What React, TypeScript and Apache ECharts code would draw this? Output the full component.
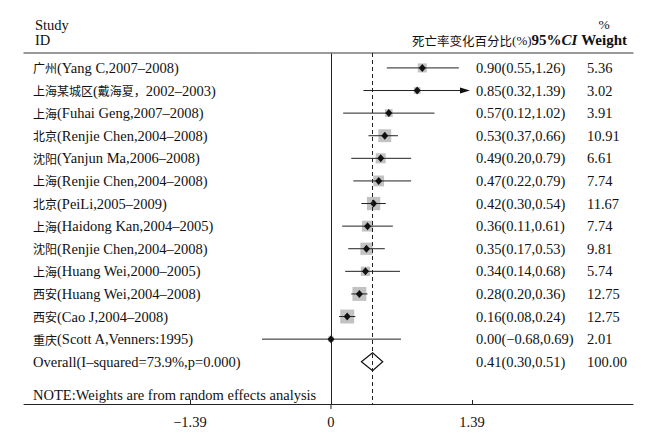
import React, { useEffect, useRef } from "react";
import * as echarts from "echarts";

const studies = [
  "广州(Yang C,2007–2008)",
  "上海某城区(戴海夏，2002–2003)",
  "上海(Fuhai Geng,2007–2008)",
  "北京(Renjie Chen,2004–2008)",
  "沈阳(Yanjun Ma,2006–2008)",
  "上海(Renjie Chen,2004–2008)",
  "北京(PeiLi,2005–2009)",
  "上海(Haidong Kan,2004–2005)",
  "沈阳(Renjie Chen,2004–2008)",
  "上海(Huang Wei,2000–2005)",
  "西安(Huang Wei,2004–2008)",
  "西安(Cao J,2004–2008)",
  "重庆(Scott A,Venners:1995)",
];
const estimates = [0.9, 0.85, 0.57, 0.53, 0.49, 0.47, 0.42, 0.36, 0.35, 0.34, 0.28, 0.16, 0.0];
const lowers = [0.55, 0.32, 0.12, 0.37, 0.2, 0.22, 0.3, 0.11, 0.17, 0.14, 0.2, 0.08, -0.68];
const uppers = [1.26, 1.39, 1.02, 0.66, 0.79, 0.79, 0.54, 0.61, 0.53, 0.68, 0.36, 0.24, 0.69];
const weights = [5.36, 3.02, 3.91, 10.91, 6.61, 7.74, 11.67, 7.74, 9.81, 5.74, 12.75, 12.75, 2.01];

const overallLabel = "Overall(I–squared=73.9%,p=0.000)";
const overallEstimate = [0.41, 0.3, 0.51, 100.0];
const noteText = "NOTE:Weights are from random effects analysis";
const xTickValues = [-1.39, 0, 1.39];
const arrowLimit = 1.39;

const X_MIN = -3.026;
const X_MAX = 2.977;
const Y_MIN = -0.66;
const Y_MAX = 14.87;

const SERIF = "'Liberation Serif', 'Times New Roman', 'Noto Sans CJK SC', serif";
const CJK = "'Noto Sans CJK SC', sans-serif";
const TEXT_COLOR = "#111111";
const FS = 14.5;

const fmt = (v: number) => (v < 0 ? "−" + Math.abs(v).toFixed(2) : v.toFixed(2));
const richify = (s: string) => s.replace(/([\u3000-\u9fff\uff00-\uffef]+)/g, "{c|$1}");
const rich = {
  c: { fontFamily: CJK, fontSize: 12, fill: TEXT_COLOR, color: TEXT_COLOR },
};

function rowTexts(cy: number, label: string, est: string, wt: string) {
  const base = { fill: TEXT_COLOR, fontFamily: SERIF, fontSize: FS, verticalAlign: "middle", align: "left", rich };
  return [
    { type: "text", style: { ...base, x: 33, y: cy, text: richify(label) } },
    { type: "text", style: { ...base, x: 476, y: cy, text: est } },
    { type: "text", style: { ...base, x: 587, y: cy, text: wt } },
  ];
}

export default function App() {
  const ref = useRef<HTMLDivElement>(null);
  useEffect(() => {
    if (!ref.current) return;
    const chart = echarts.init(ref.current, undefined, { renderer: "svg" });
    const rowData = studies.map((_, i) => [i, estimates[i], lowers[i], uppers[i], weights[i]]);
    const overallIndex = studies.length;

    const headerRich = {
      c: { fontFamily: CJK, fontSize: 12.5, fill: TEXT_COLOR, color: TEXT_COLOR },
      p: { fontFamily: SERIF, fontSize: 13, fill: TEXT_COLOR, color: TEXT_COLOR },
      b: { fontFamily: SERIF, fontSize: 15, fontWeight: "bold", fill: TEXT_COLOR, color: TEXT_COLOR },
      i: { fontFamily: SERIF, fontSize: 15, fontWeight: "bold", fontStyle: "italic", fill: TEXT_COLOR, color: TEXT_COLOR },
    };

    const option: any = {
      animation: false,
      backgroundColor: "#ffffff",
      grid: { left: 24, right: 25, top: 53, bottom: 30, containLabel: false },
      xAxis: [
        {
          type: "value",
          min: X_MIN,
          max: X_MAX,
          position: "bottom",
          axisLine: { onZero: false, lineStyle: { color: "#222", width: 1 } },
          axisTick: { show: true, inside: true, length: 4, customValues: xTickValues, lineStyle: { color: "#222" } },
          axisLabel: {
            show: true,
            customValues: xTickValues,
            margin: 11,
            color: TEXT_COLOR,
            fontFamily: SERIF,
            fontSize: FS,
            formatter: (v: number) => (v === 0 ? "0" : fmt(v)),
          },
          splitLine: { show: false },
        },
        {
          type: "value",
          min: X_MIN,
          max: X_MAX,
          position: "top",
          axisLine: { onZero: false, lineStyle: { color: "#7a7a7a", width: 1.5 } },
          axisTick: { show: false },
          axisLabel: { show: false },
          splitLine: { show: false },
        },
      ],
      yAxis: {
        type: "value",
        inverse: true,
        min: Y_MIN,
        max: Y_MAX,
        axisLine: { show: true, onZero: true, lineStyle: { color: "#222", width: 1 } },
        axisTick: { show: false },
        axisLabel: { show: false },
        splitLine: { show: false },
      },
      graphic: [
        { type: "text", style: { x: 35, y: 25, text: "Study", fill: TEXT_COLOR, fontFamily: SERIF, fontSize: FS, verticalAlign: "middle" } },
        { type: "text", style: { x: 35, y: 40, text: "ID", fill: TEXT_COLOR, fontFamily: SERIF, fontSize: FS, verticalAlign: "middle" } },
        { type: "text", style: { x: 604, y: 24, text: "%", fill: TEXT_COLOR, fontFamily: SERIF, fontSize: FS - 1, align: "center", verticalAlign: "middle" } },
        {
          type: "text",
          style: {
            x: 627,
            y: 40,
            text: "{c|死亡率变化百分比}{p|(%)}{b|95%}{i|CI}{b| Weight}",
            fill: TEXT_COLOR,
            fontFamily: SERIF,
            fontSize: 15,
            align: "right",
            verticalAlign: "middle",
            rich: headerRich,
          },
        },
        { type: "text", style: { x: 33, y: 395, text: noteText, fill: TEXT_COLOR, fontFamily: SERIF, fontSize: FS, verticalAlign: "middle" } },
      ],
      series: [
        {
          type: "custom",
          clip: false,
          data: rowData,
          renderItem: (params: any, api: any) => {
            const i = api.value(0);
            const est = api.value(1);
            const lo = api.value(2);
            const hi = api.value(3);
            const w = api.value(4);
            const [cx, cy] = api.coord([est, i]);
            const x1 = api.coord([lo, i])[0];
            const clipped = hi >= arrowLimit;
            const x2 = api.coord([Math.min(hi, arrowLimit), i])[0];
            const side = 3.9 * Math.sqrt(w);
            const children: any[] = [
              { type: "rect", shape: { x: cx - side / 2, y: cy - side / 2, width: side, height: side }, style: { fill: "#c2c2c2" } },
              { type: "line", shape: { x1, y1: cy, x2: clipped ? x2 - 8 : x2, y2: cy }, style: { stroke: "#222", lineWidth: 1 } },
              {
                type: "polygon",
                shape: { points: [[cx - 3.5, cy], [cx, cy - 4], [cx + 3.5, cy], [cx, cy + 4]] },
                style: { fill: "#111" },
              },
            ];
            if (clipped) {
              children.push({
                type: "polygon",
                shape: { points: [[x2 - 2, cy], [x2 - 12, cy - 3], [x2 - 12, cy + 3]] },
                style: { fill: "#111" },
              });
            }
            children.push(...rowTexts(cy, studies[i], `${fmt(est)}(${fmt(lo)},${fmt(hi)})`, w.toFixed(2)));
            return { type: "group", children };
          },
        },
        {
          type: "custom",
          clip: false,
          data: [[overallIndex, ...overallEstimate]],
          renderItem: (params: any, api: any) => {
            const i = api.value(0);
            const est = api.value(1);
            const lo = api.value(2);
            const hi = api.value(3);
            const w = api.value(4);
            const [cx, cy] = api.coord([est, i]);
            const x1 = api.coord([lo, i])[0];
            const x2 = api.coord([hi, i])[0];
            const [zx, zy] = api.coord([0, Y_MAX]);
            const children: any[] = [
              {
                type: "polygon",
                shape: { points: [[x1, cy], [cx, cy - 9], [x2, cy], [cx, cy + 9]] },
                style: { fill: "rgba(255,255,255,0)", stroke: "#111", lineWidth: 1.2 },
              },
              { type: "line", shape: { x1: zx, y1: zy, x2: zx, y2: zy + 5 }, style: { stroke: "#222", lineWidth: 1 } },
              ...rowTexts(cy, overallLabel, `${fmt(est)}(${fmt(lo)},${fmt(hi)})`, w.toFixed(2)),
            ];
            return { type: "group", children };
          },
          markLine: {
            silent: true,
            symbol: ["none", "none"],
            label: { show: false },
            lineStyle: { type: [4, 3], color: "#222", width: 1 },
            data: [{ xAxis: overallEstimate[0] }],
          },
        },
      ],
    };
    chart.setOption(option);
    return () => chart.dispose();
  }, []);
  return <div ref={ref} style={{ position: "absolute", left: 0, top: 0, width: 658, height: 434, background: "#fff" }} />;
}
